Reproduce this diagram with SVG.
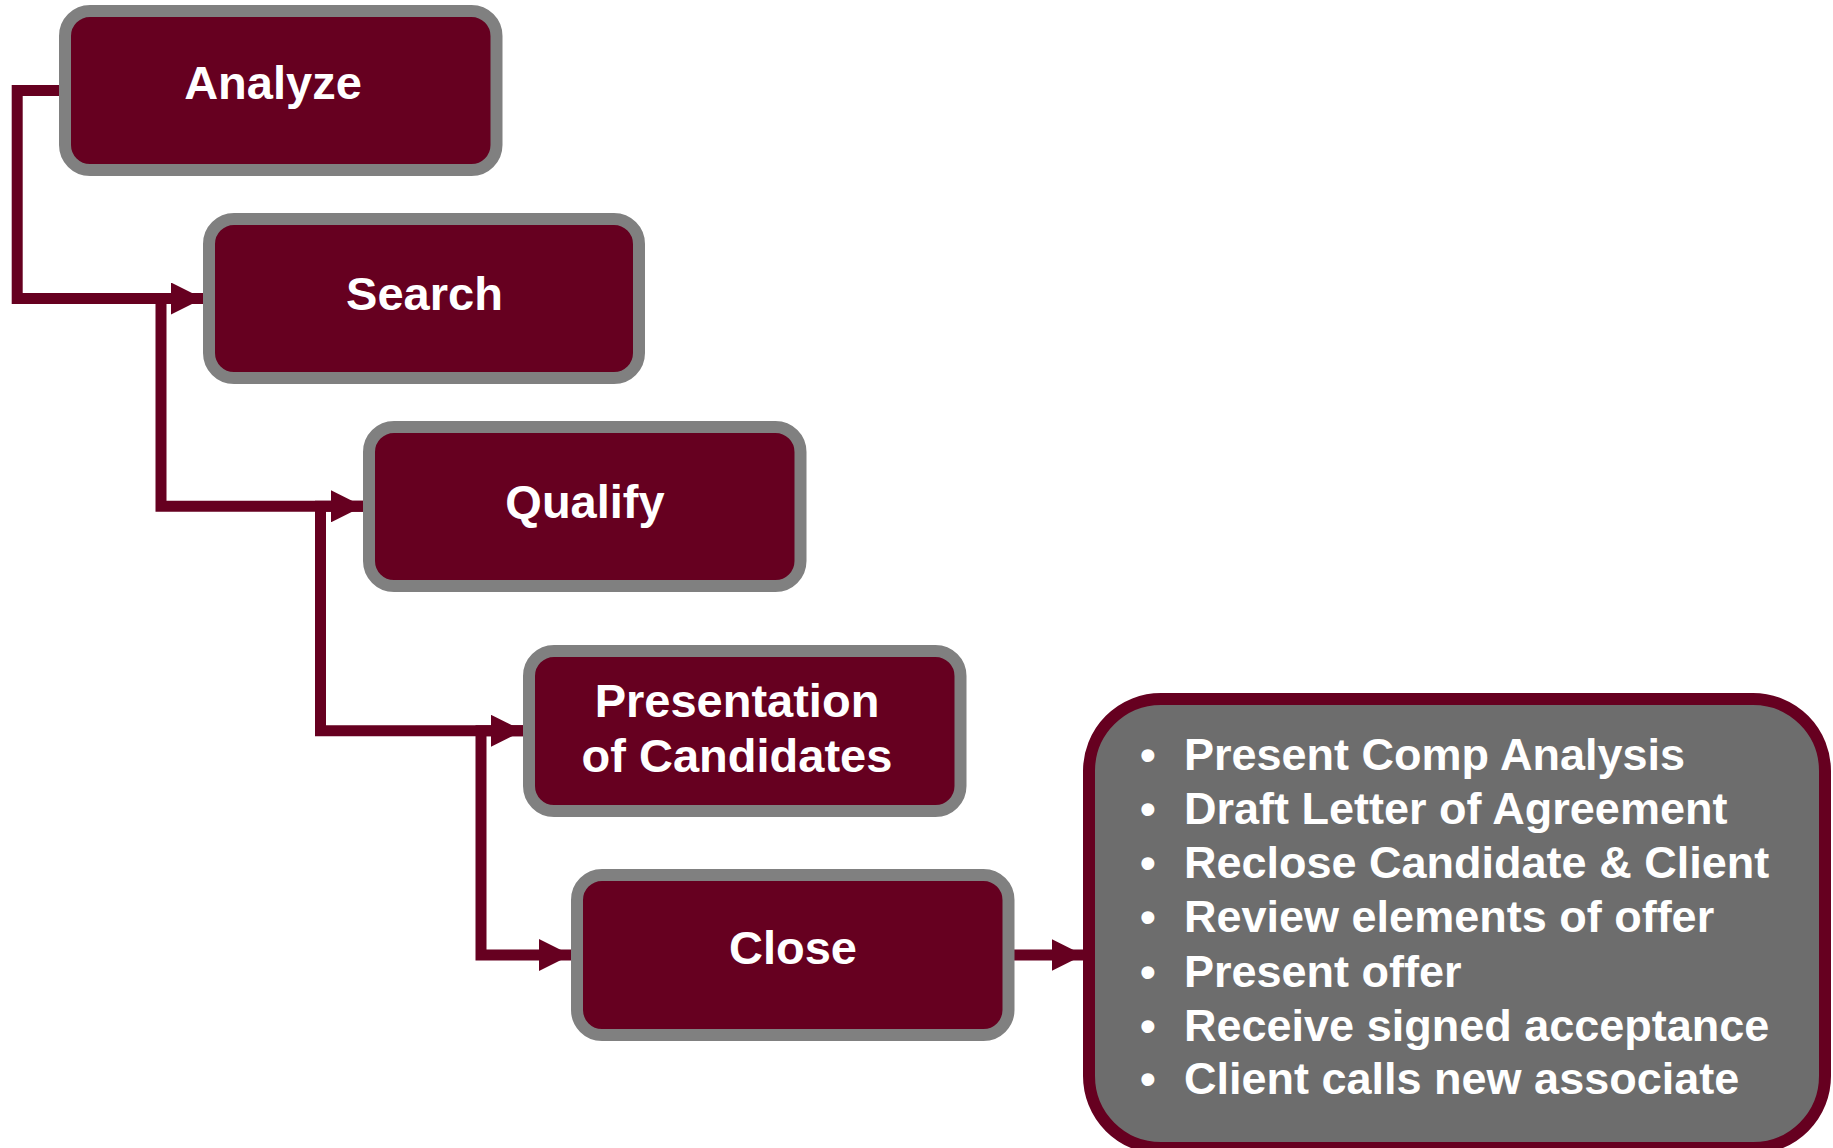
<svg xmlns="http://www.w3.org/2000/svg" width="1833" height="1148" viewBox="0 0 1833 1148">
  <defs>
    <marker id="arrow" markerUnits="userSpaceOnUse" markerWidth="32" markerHeight="32" refX="32" refY="16" orient="auto">
      <path d="M0,0 L32,16 L0,32 z" fill="#660020"/>
    </marker>
    <style>
      .conn { fill: none; stroke: #660020; stroke-width: 11; stroke-linejoin: miter; stroke-linecap: butt; }
      .node rect { fill: #660020; stroke: #808080; stroke-width: 12; }
      .label { font-family: "Liberation Sans", Arial, sans-serif; font-weight: bold; font-size: 47px; fill: #ffffff; text-anchor: middle; }
      .detail rect { fill: #6d6d6d; stroke: #660020; stroke-width: 12; }
      .item { font-family: "Liberation Sans", Arial, sans-serif; font-weight: bold; font-size: 45px; fill: #ffffff; }
      .bullet { font-family: "Liberation Sans", Arial, sans-serif; font-weight: bold; font-size: 45px; fill: #ffffff; text-anchor: middle; }
    </style>
  </defs>
  <rect x="0" y="0" width="1833" height="1148" fill="#ffffff"/>

  <g id="connectors">
    <path class="conn" d="M59,90.5 H17.2 V298.5 H203" marker-end="url(#arrow)"/>
    <path class="conn" d="M203,298.5 H161 V506.3 H363" marker-end="url(#arrow)"/>
    <path class="conn" d="M363,506.3 H320.5 V730.8 H523" marker-end="url(#arrow)"/>
    <path class="conn" d="M523,730.8 H481 V955 H571" marker-end="url(#arrow)"/>
    <path class="conn" d="M1014,955 H1083.5" marker-end="url(#arrow)"/>
  </g>

  <g id="node-analyze" class="node">
    <rect x="65" y="11" width="431.5" height="159" rx="25"/>
    <text class="label" x="273" y="99">Analyze</text>
  </g>
  <g id="node-search" class="node">
    <rect x="209" y="219" width="430" height="159" rx="25"/>
    <text class="label" x="424.5" y="310">Search</text>
  </g>
  <g id="node-qualify" class="node">
    <rect x="369" y="427" width="431.5" height="159" rx="25"/>
    <text class="label" x="585" y="518">Qualify</text>
  </g>
  <g id="node-presentation" class="node">
    <rect x="529" y="651" width="431.5" height="160" rx="25"/>
    <text class="label" x="737" y="717">Presentation</text>
    <text class="label" x="737" y="772">of Candidates</text>
  </g>
  <g id="node-close" class="node">
    <rect x="577" y="875" width="431.5" height="160" rx="25"/>
    <text class="label" x="793" y="964">Close</text>
  </g>

  <g id="node-close-details" class="detail">
    <rect x="1089" y="699" width="736" height="449" rx="72"/>
    <text class="bullet" x="1148" y="770">•</text>
    <text class="item" x="1184" y="770">Present Comp Analysis</text>
    <text class="bullet" x="1148" y="823.5">•</text>
    <text class="item" x="1184" y="823.5">Draft Letter of Agreement</text>
    <text class="bullet" x="1148" y="877.5">•</text>
    <text class="item" x="1184" y="877.5">Reclose Candidate &amp; Client</text>
    <text class="bullet" x="1148" y="931.7">•</text>
    <text class="item" x="1184" y="931.7">Review elements of offer</text>
    <text class="bullet" x="1148" y="986.7">•</text>
    <text class="item" x="1184" y="986.7">Present offer</text>
    <text class="bullet" x="1148" y="1041">•</text>
    <text class="item" x="1184" y="1041">Receive signed acceptance</text>
    <text class="bullet" x="1148" y="1094">•</text>
    <text class="item" x="1184" y="1094">Client calls new associate</text>
  </g>
</svg>
